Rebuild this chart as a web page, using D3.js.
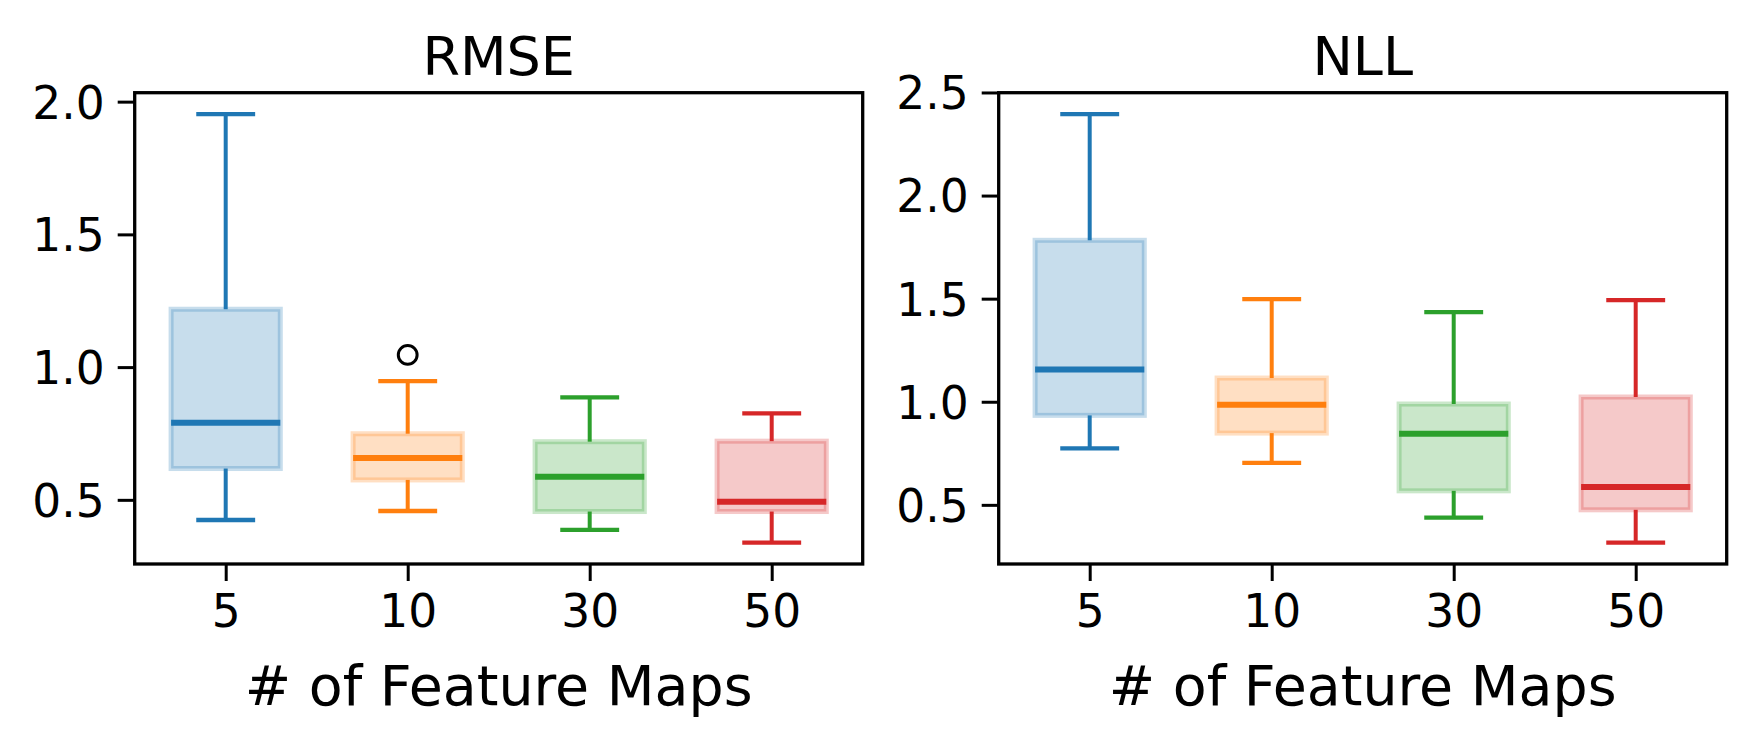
<!DOCTYPE html>
<html>
<head>
<meta charset="utf-8">
<script src="https://cdn.jsdelivr.net/npm/d3@7"></script>
<style>
  body { margin: 0; background: #fff; }
  svg { display: block; font-family: "DejaVu Sans", sans-serif; }
</style>
</head>
<body>
<div id="chart"></div>
<script>
// box stats, one entry per feature-map count
const categories = ["5", "10", "30", "50"];
const colors = ["#1f77b4", "#ff7f0e", "#2ca02c", "#d62728"];

const rmseLow  = [0.424, 0.458, 0.387, 0.339];
const rmseQ1   = [0.618, 0.575, 0.456, 0.456];
const rmseMed  = [0.790, 0.658, 0.587, 0.493];
const rmseQ3   = [1.218, 0.749, 0.719, 0.721];
const rmseHigh = [1.953, 0.947, 0.886, 0.826];
const rmseOut  = [[], [1.046], [], []];
const rmseTicks = [0.5, 1.0, 1.5, 2.0];

const nllLow  = [0.774, 0.704, 0.438, 0.317];
const nllQ1   = [0.934, 0.848, 0.568, 0.476];
const nllMed  = [1.156, 0.986, 0.845, 0.587];
const nllQ3   = [1.783, 1.115, 0.989, 1.023];
const nllHigh = [2.395, 1.498, 1.435, 1.493];
const nllOut  = [[], [], [], []];
const nllTicks = [0.5, 1.0, 1.5, 2.0, 2.5];

const W = 1760, H = 748;
const plotTop = 92.7, plotBottom = 564;
const TICK = 17;

const svg = d3.select('#chart').append('svg')
  .attr('width', W)
  .attr('height', H);
svg.append('rect').attr('width', W).attr('height', H).attr('fill', '#fff');

function stats(low, q1, med, q3, high, out) {
  return categories.map((c, i) => ({
    cat: c, low: low[i], q1: q1[i], med: med[i], q3: q3[i], high: high[i], out: out[i], color: colors[i]
  }));
}

function drawPanel(x0, x1, title, data, ticks) {
  // matplotlib-ish auto limits: 5% margin around whiskers/outliers
  let vals = [];
  data.forEach(d => { vals.push(d.low, d.high); vals = vals.concat(d.out); });
  let [mn, mx] = d3.extent(vals);
  let pad = (mx - mn) * 0.05;

  let x = d3.scalePoint().domain(categories).range([x0, x1]).padding(0.5);
  let y = d3.scaleLinear().domain([mn - pad, mx + pad]).range([plotBottom, plotTop]);
  let bw = x.step() * 0.6;
  let cw = bw / 2;

  let g = svg.append('g');

  // boxes
  let box = g.selectAll('.box').data(data).enter().append('g').attr('class', 'box');
  box.append('rect')
    .attr('x', d => x(d.cat) - bw / 2)
    .attr('y', d => y(d.q3))
    .attr('width', bw)
    .attr('height', d => y(d.q1) - y(d.q3))
    .attr('fill', d => d.color)
    .attr('fill-opacity', 0.25)
    .attr('stroke', d => d.color)
    .attr('stroke-opacity', 0.25)
    .attr('stroke-width', 5);

  // whiskers
  box.append('line')
    .attr('x1', d => x(d.cat)).attr('x2', d => x(d.cat))
    .attr('y1', d => y(d.q3)).attr('y2', d => y(d.high))
    .attr('stroke', d => d.color).attr('stroke-width', 4);
  box.append('line')
    .attr('x1', d => x(d.cat)).attr('x2', d => x(d.cat))
    .attr('y1', d => y(d.q1)).attr('y2', d => y(d.low))
    .attr('stroke', d => d.color).attr('stroke-width', 4);

  // caps
  ['high', 'low'].forEach(k => {
    box.append('line')
      .attr('x1', d => x(d.cat) - cw / 2).attr('x2', d => x(d.cat) + cw / 2)
      .attr('y1', d => y(d[k])).attr('y2', d => y(d[k]))
      .attr('stroke', d => d.color).attr('stroke-width', 4.3)
      .attr('stroke-linecap', 'square');
  });

  // medians
  box.append('line')
    .attr('x1', d => x(d.cat) - bw / 2).attr('x2', d => x(d.cat) + bw / 2)
    .attr('y1', d => y(d.med)).attr('y2', d => y(d.med))
    .attr('stroke', d => d.color).attr('stroke-width', 6);

  // fliers
  box.selectAll('.flier').data(d => d.out.map(v => ({cat: d.cat, v: v})))
    .enter().append('circle')
      .attr('class', 'flier')
      .attr('cx', d => x(d.cat))
      .attr('cy', d => y(d.v))
      .attr('r', 9.4)
      .attr('fill', 'none')
      .attr('stroke', '#000')
      .attr('stroke-width', 3);

  // axes
  let yAxis = g.append('g')
    .attr('transform', 'translate(' + x0 + ',0)')
    .call(d3.axisLeft(y).tickValues(ticks).tickFormat(d3.format('.1f'))
      .tickSize(TICK).tickPadding(13));
  let xAxis = g.append('g')
    .attr('transform', 'translate(0,' + plotBottom + ')')
    .call(d3.axisBottom(x).tickSize(TICK).tickPadding(14));
  [yAxis, xAxis].forEach(a => {
    a.select('.domain').remove();
    a.selectAll('.tick line').attr('stroke', '#000').attr('stroke-width', 3);
    a.selectAll('.tick text')
      .attr('fill', '#000')
      .style('font-family', '"DejaVu Sans", sans-serif')
      .style('font-size', '45.5px');
  });
  yAxis.selectAll('.tick text').attr('dy', '0.36em');

  // frame
  g.append('rect')
    .attr('x', x0).attr('y', plotTop)
    .attr('width', x1 - x0).attr('height', plotBottom - plotTop)
    .attr('fill', 'none')
    .attr('stroke', '#000')
    .attr('stroke-width', 3.3);

  let cx = (x0 + x1) / 2;
  g.append('text')
    .attr('x', cx).attr('y', 75)
    .attr('text-anchor', 'middle')
    .style('font-size', '54px')
    .text(title);
  g.append('text')
    .attr('x', cx).attr('y', 705)
    .attr('text-anchor', 'middle')
    .style('font-size', '55.4px')
    .text('# of Feature Maps');
}

drawPanel(134.7, 862.7, 'RMSE',
  stats(rmseLow, rmseQ1, rmseMed, rmseQ3, rmseHigh, rmseOut), rmseTicks);
drawPanel(998.7, 1726.7, 'NLL',
  stats(nllLow, nllQ1, nllMed, nllQ3, nllHigh, nllOut), nllTicks);
</script>
</body>
</html>
